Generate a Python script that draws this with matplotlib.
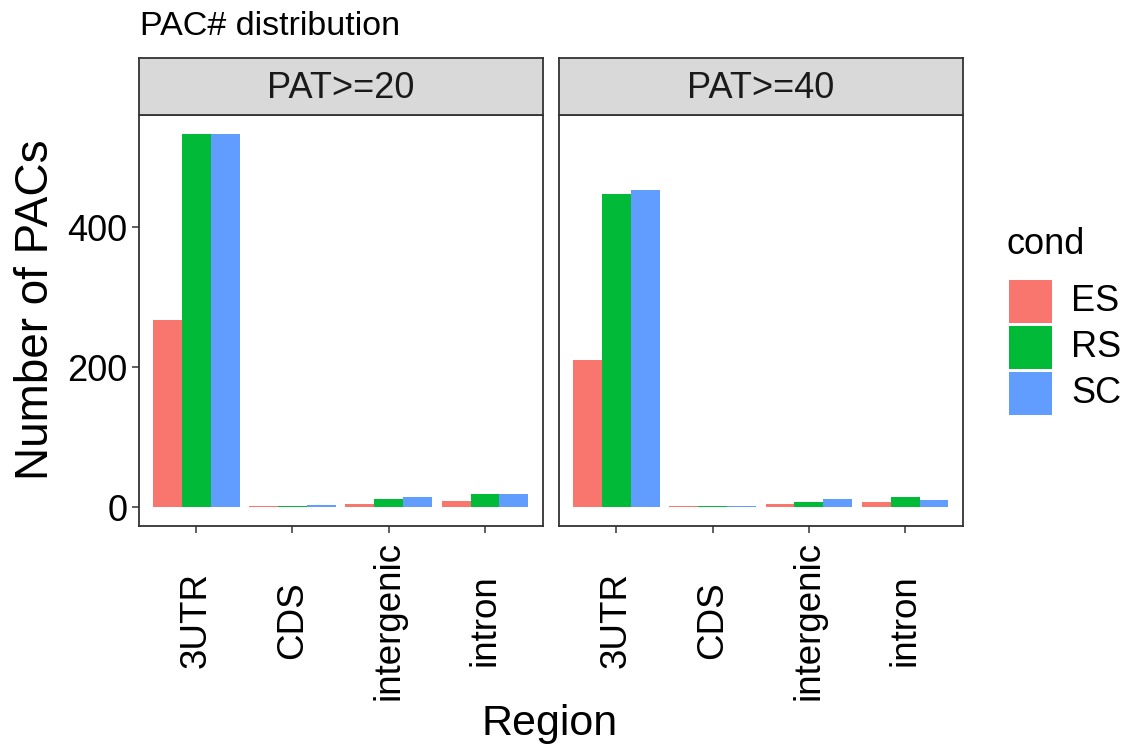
import matplotlib.pyplot as plt
from matplotlib.patches import Rectangle
from matplotlib.transforms import blended_transform_factory
import numpy as np

plt.rcParams['font.family'] = ['Liberation Sans', 'DejaVu Sans']

# PAC counts per genomic region, split by cutoff and condition
regions = ['3UTR', 'CDS', 'intergenic', 'intron']
conds = ['ES', 'RS', 'SC']
colors = ['#F8766D', '#00BA38', '#619CFF']
panels = ['PAT>=20', 'PAT>=40']

pat20_es = [267, 1, 5, 8]
pat20_rs = [534, 1, 11, 18]
pat20_sc = [534, 3, 14, 18]

pat40_es = [211, 1, 5, 7]
pat40_rs = [447, 1, 7, 14]
pat40_sc = [454, 1, 11, 10]

panel_data = [
    [pat20_es, pat20_rs, pat20_sc],
    [pat40_es, pat40_rs, pat40_sc],
]

W, H = 1128, 751
fig = plt.figure(figsize=(W / 100, H / 100), dpi=100)

def fx(px):
    return px / W

def fy(py):
    return 1 - py / H

edge = '#333333'
ymax = max(max(s) for p in panel_data for s in p)
ylim = (-0.05 * ymax, 1.05 * ymax)

panel_left = [138.5, 558.7]
panel_w = 404.2
top, bottom = 115.0, 525.7
strip_top = 57.7

x = np.arange(len(regions))
bw = 0.3
for k, (lab, series) in enumerate(zip(panels, panel_data)):
    ax = fig.add_axes([fx(panel_left[k]), fy(bottom), fx(panel_w),
                       (bottom - top) / H])
    for j, vals in enumerate(series):
        ax.bar(x + (j - 1) * bw, vals, bw, color=colors[j], linewidth=0)
    ax.set_xlim(-0.6, len(regions) - 0.4)
    ax.set_ylim(*ylim)
    ax.set_xticks(x)
    ax.set_xticklabels([])
    # rotated region labels, centred vertically like ggplot's angle=90
    tr = blended_transform_factory(ax.transData, fig.transFigure)
    for xi, r in zip(x, regions):
        ax.text(xi, fy(620), r, rotation=90, ha='center', va='center',
                fontsize=26.5, transform=tr)
    ax.set_yticks([0, 200, 400])
    if k == 0:
        ax.set_yticklabels(['0', '200', '400'], fontsize=26)
    else:
        ax.tick_params(axis='y', left=False, labelleft=False)
    ax.tick_params(length=5, width=1.1, color=edge, pad=3)
    for s in ax.spines.values():
        s.set_color(edge)
        s.set_linewidth(1.3)

    # facet strip
    sax = fig.add_axes([fx(panel_left[k]), fy(top), fx(panel_w),
                        (top - strip_top) / H])
    sax.set_facecolor('#D9D9D9')
    sax.set_xticks([])
    sax.set_yticks([])
    for s in sax.spines.values():
        s.set_color(edge)
        s.set_linewidth(1.3)
    sax.text(0.5, 0.47, lab, ha='center', va='center', fontsize=26,
             color='#1A1A1A', transform=sax.transAxes)

fig.text(fx(140), fy(35), 'PAC# distribution', fontsize=24.5,
         ha='left', va='baseline')
fig.text(fx(36), fy(310), 'Number of PACs', fontsize=33, rotation=90,
         ha='center', va='center')
fig.text(fx(550), fy(724), 'Region', fontsize=31, ha='center', va='center')

# legend
fig.text(fx(1007), fy(244), 'cond', fontsize=26, ha='left', va='center')
key_tops = [280, 326, 372]
for c, name, kt in zip(colors, conds, key_tops):
    fig.add_artist(Rectangle((fx(1009), fy(kt + 43)), fx(43), 43 / H,
                             facecolor=c, edgecolor='none',
                             transform=fig.transFigure))
    fig.text(fx(1071), fy(kt + 21.5), name, fontsize=26,
             ha='left', va='center')

fig.savefig('out.png', dpi=100)
